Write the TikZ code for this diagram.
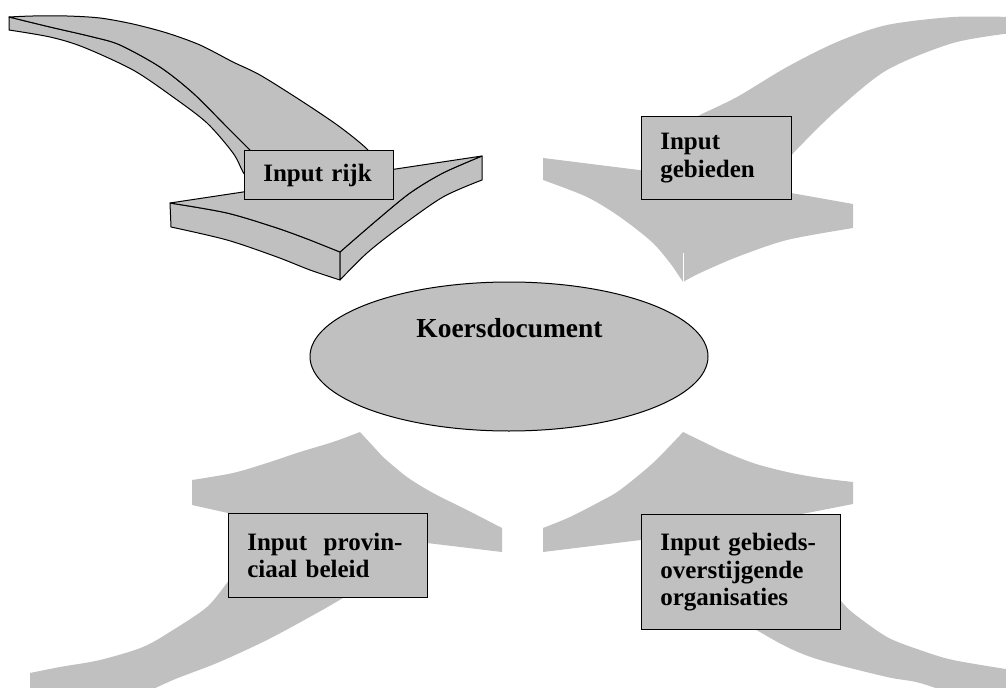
\documentclass[tikz,border=0pt]{standalone}
\usepackage{fontspec}
\setmainfont{Liberation Serif}
\definecolor{arrowgray}{RGB}{192, 192, 192}
\usetikzlibrary{shapes.geometric}

\begin{document}
\begin{tikzpicture}[x=0.75pt, y=-0.75pt,
  grayarrow/.style={fill=arrowgray, draw=none},
  facearrow/.style={fill=arrowgray, draw=black, line width=0.75pt, line join=round},
  inputbox/.style={draw=black, fill=arrowgray, line width=1pt, anchor=north west, align=left, inner xsep=14pt, inner ysep=0pt, font=\fontsize{18.75}{20.6}\selectfont\bfseries}]
  \useasboundingbox (0, 0) rectangle (1006, 688);
  \clip (0, 0) rectangle (1006, 688);

  % Arrow rijk (outlined, with thickness)
  \filldraw[facearrow] plot[smooth] coordinates {(9,17) (50,27) (93,37) (120,45) (160,67) (193,93) (227,127) (248,148) (254,154)}
    -- plot[smooth] coordinates {(249,180) (243,172) (233,153) (207,123) (173,97) (133,70) (83,47) (50,37) (9,30)} -- cycle;
  \filldraw[facearrow] plot[smooth] coordinates {(9,17) (33,16) (67,16) (100,18) (133,24) (167,33) (200,45) (233,62) (260,75) (300,100) (333,122) (353,137) (367,149) (372,156)}
    -- (300,185) -- plot[smooth] coordinates {(254,154) (248,148) (227,127) (193,93) (160,67) (120,45) (93,37) (50,27) (9,17)} -- cycle;
  \filldraw[facearrow] plot[smooth] coordinates {(170,203) (227,213) (277,228) (310,240) (340,252)}
    -- plot[smooth] coordinates {(340,280) (310,270) (277,257) (227,240) (171,227)} -- cycle;
  \filldraw[facearrow] plot[smooth] coordinates {(482,156) (443,173) (410,193) (377,220) (340,252)}
    -- plot[smooth] coordinates {(340,280) (367,253) (400,227) (443,197) (482,180)} -- cycle;
  \filldraw[facearrow] (170,203) -- plot[smooth] coordinates {(482,156) (443,173) (410,193) (377,220) (340,252)}
    -- plot[smooth] coordinates {(310,240) (277,228) (227,213) (170,203)} -- cycle;

  % Arrow gebieden
  \fill[grayarrow] plot[smooth] coordinates {(1012,17) (953,17) (887,25) (837,42) (787,67) (737,97) (700,115) (690,122)}
    -- (720,170) -- plot[smooth] coordinates {(785,165) (790,157) (803,143) (837,110) (887,70) (953,43) (1012,33)} -- cycle;
  \fill[grayarrow] (543,158) -- (715,179.5) -- (853,204) -- plot[smooth] coordinates {(853,228) (787,240) (737,257) (700,273) (683,282)}
    -- plot[smooth] coordinates {(673,267) (653,243) (620,217) (587,197) (543,180)} -- cycle;
  \draw[white, line width=0.6pt] (683,253) -- (683,282);

  % Arrow provinciaal beleid
  \fill[grayarrow] plot[smooth] coordinates {(192,480) (233,473) (267,463) (300,452) (333,442) (360,432)}
    -- plot[smooth] coordinates {(383,457) (407,477) (433,493) (467,510) (502,528)}
    -- (502,552) -- (427,543) -- (330,534) -- (228,513) -- (192,505) -- cycle;
  \fill[grayarrow] (30,700) -- plot[smooth] coordinates {(30,673) (60,667) (100,660) (143,647) (173,630) (207,607) (227,583) (237,571)}
    -- (300,560) -- plot[smooth] coordinates {(356,590) (343,598) (317,613) (267,640) (217,663) (173,680) (130,700)} -- cycle;

  % Arrow organisaties
  \fill[grayarrow] plot[smooth] coordinates {(543,528) (570,517) (603,500) (620,490) (653,463) (683,432)}
    -- plot[smooth] coordinates {(720,450) (753,463) (787,472) (820,478) (853,482)}
    -- (853,504) -- (807,513) -- (720,530) -- (641,540) -- (543,552) -- cycle;
  \fill[grayarrow] plot[smooth] coordinates {(744,623) (753,628) (787,647) (820,660) (887,677) (920,683) (970,700)}
    -- (1012,700) -- plot[smooth] coordinates {(1012,670) (953,660) (920,650) (887,637) (853,613) (840,600) (830,590)} -- cycle;

  % Centre
  \node[ellipse, draw=black, fill=arrowgray, line width=0.75pt, minimum width=298.5pt, minimum height=111.75pt, inner sep=0pt] (koers) at (509, 356.5) {};
  \node[font=\fontsize{20.6}{24}\selectfont\bfseries, anchor=base] (koerstext) at (509.5, 337) {Koersdocument};

  % Input boxes
  \node[inputbox, text width=83.75pt, minimum height=36.75pt] (rijk) at (244, 150) {Input rijk};
  \node[inputbox, text width=84.5pt, minimum height=62.25pt] (gebieden) at (641, 116) {Input\\gebieden};
  \node[inputbox, text width=121.25pt, minimum height=63pt] (provinciaal) at (228, 513) {Input~~provin-\\ciaal beleid};
  \node[inputbox, text width=121.25pt, minimum height=86.25pt] (organisaties) at (641, 514) {Input gebieds-\\overstijgende\\organisaties};
\end{tikzpicture}
\end{document}
